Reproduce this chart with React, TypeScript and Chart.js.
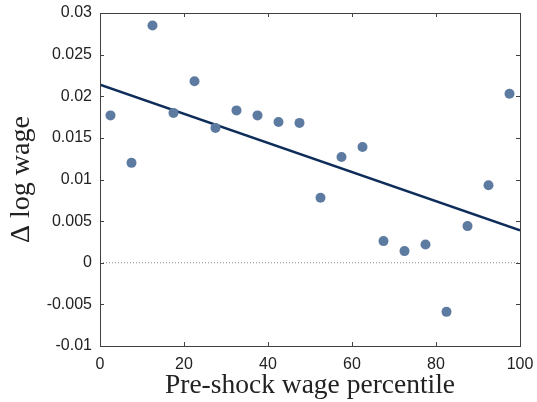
import React, { useEffect, useRef } from "react";
import { Chart, registerables } from "chart.js";

Chart.register(...registerables);

const percentiles = [2.5, 7.5, 12.5, 17.5, 22.5, 27.5, 32.5, 37.5, 42.5, 47.5, 52.5, 57.5, 62.5, 67.5, 72.5, 77.5, 82.5, 87.5, 92.5, 97.5];
const wageChange = [0.0177, 0.012, 0.0285, 0.018, 0.0218, 0.0162, 0.0183, 0.0177, 0.0169, 0.0168, 0.0078, 0.0127, 0.0139, 0.0026, 0.0014, 0.0022, -0.0059, 0.0044, 0.0093, 0.0203];
const fitX = [0, 100];
const fitY = [0.0214, 0.0039];
const xTickValues = [0, 20, 40, 60, 80, 100];
const yTickValues = [-0.01, -0.005, 0, 0.005, 0.01, 0.015, 0.02, 0.025, 0.03];
const xTitle = "Pre-shock wage percentile";
const yTitle = "\u0394 log wage";

const boxPlugin = {
  id: "boxPlugin",
  afterDraw(chart: any) {
    const { ctx, chartArea, scales } = chart;
    const { left, right, top, bottom } = chartArea;
    const x = scales.x;
    const y = scales.y;
    ctx.save();
    ctx.strokeStyle = "#404040";
    ctx.lineWidth = 1;
    ctx.strokeRect(Math.round(left) + 0.5, Math.round(top) + 0.5, Math.round(right - left), Math.round(bottom - top));
    const tl = 4;
    ctx.beginPath();
    xTickValues.forEach((v) => {
      const px = Math.round(x.getPixelForValue(v)) + 0.5;
      ctx.moveTo(px, bottom);
      ctx.lineTo(px, bottom - tl);
      ctx.moveTo(px, top);
      ctx.lineTo(px, top + tl);
    });
    yTickValues.forEach((v) => {
      const py = Math.round(y.getPixelForValue(v)) + 0.5;
      ctx.moveTo(left, py);
      ctx.lineTo(left + tl, py);
      ctx.moveTo(right, py);
      ctx.lineTo(right - tl, py);
    });
    ctx.stroke();
    ctx.restore();
  },
};

export default function App() {
  const ref = useRef<HTMLCanvasElement | null>(null);
  useEffect(() => {
    document.body.style.margin = "0";
    const canvas = ref.current;
    if (!canvas) return;
    const chart = new Chart(canvas, {
      type: "scatter",
      data: {
        datasets: [
          {
            type: "line",
            label: "zero",
            data: fitX.map((v) => ({ x: v, y: 0 })),
            borderColor: "#8a8a8a",
            borderWidth: 1,
            borderDash: [1, 2],
            pointRadius: 0,
            fill: false,
            order: 3,
          } as any,
          {
            type: "line",
            label: "fit",
            data: fitX.map((v, i) => ({ x: v, y: fitY[i] })),
            borderColor: "#0e2d5a",
            borderWidth: 2.5,
            pointRadius: 0,
            fill: false,
            order: 2,
          } as any,
          {
            label: "points",
            data: percentiles.map((v, i) => ({ x: v, y: wageChange[i] })),
            backgroundColor: "#5d7ba1",
            borderColor: "#5d7ba1",
            pointRadius: 5,
            borderWidth: 0,
            order: 1,
          },
        ],
      },
      options: {
        animation: false,
        responsive: false,
        layout: { padding: { top: 13, right: 17, left: 0, bottom: 0 } },
        plugins: { legend: { display: false }, tooltip: { enabled: false } },
        scales: {
          x: {
            type: "linear",
            min: 0,
            max: 100,
            grid: { display: false, drawTicks: false },
            border: { display: false },
            afterBuildTicks: (s: any) => {
              s.ticks = xTickValues.map((v) => ({ value: v }));
            },
            afterFit: (s: any) => {
              s.height = 56;
              s.paddingLeft = 0;
              s.paddingRight = 0;
            },
            ticks: {
              padding: 9,
              color: "#222",
              font: { family: "'Liberation Sans', Arial, sans-serif", size: 16 },
              callback: (v: any) => String(v),
            },
            title: {
              display: true,
              text: xTitle,
              color: "#222",
              font: { family: "'Liberation Serif', serif", size: 27.5 },
              padding: { top: 0, bottom: 0 },
            },
          },
          y: {
            type: "linear",
            min: -0.01,
            max: 0.03,
            grid: { display: false, drawTicks: false },
            border: { display: false },
            afterBuildTicks: (s: any) => {
              s.ticks = yTickValues.map((v) => ({ value: v }));
            },
            afterFit: (s: any) => {
              s.width = 100;
              s.paddingTop = 0;
              s.paddingBottom = 0;
            },
            ticks: {
              padding: 8,
              color: "#222",
              font: { family: "'Liberation Sans', Arial, sans-serif", size: 16 },
              callback: (v: any) => String(Number(Number(v).toFixed(4))),
            },
            title: {
              display: true,
              text: yTitle,
              color: "#222",
              font: { family: "'Liberation Serif', serif", size: 28 },
              padding: { top: 5, bottom: 0 },
            },
          },
        },
      },
      plugins: [boxPlugin],
    });
    return () => chart.destroy();
  }, []);
  return (
    <div style={{ width: 537, height: 402 }}>
      <canvas ref={ref} width={537} height={402} style={{ display: "block" }} />
    </div>
  );
}
